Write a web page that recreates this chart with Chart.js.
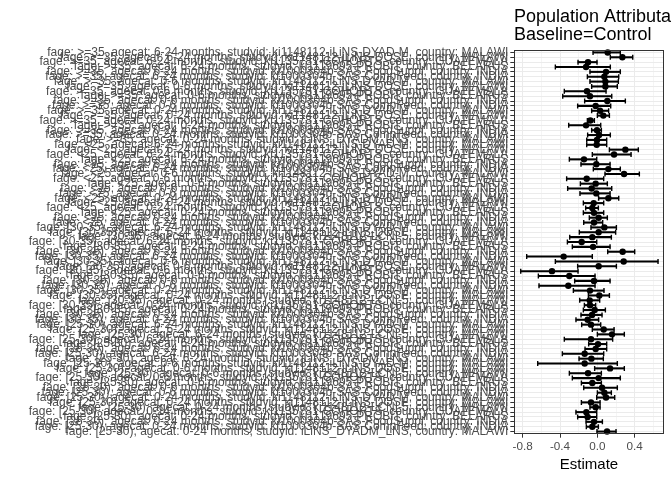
<!DOCTYPE html>
<html><head><meta charset="utf-8">
<script src="https://cdn.jsdelivr.net/npm/chart.js@4/dist/chart.umd.min.js"></script>
<style>html,body{margin:0;padding:0;background:#fff;overflow:hidden}</style>
</head><body>
<canvas id="c" width="672" height="480"></canvas>
<script>
const titleLines = ["Population Attributable Difference", "Baseline=Control"];
const xTitle = "Estimate";

const labels = [
"fage: >=35, agecat: 6-24 months, studyid: ki1148112-iLiNS-DYAD-M, country: MALAWI",
"fage: >=35, agecat: 6-24 months, studyid: ki1148112-iLiNS-DOSE, country: MALAWI",
"fage: >=35, agecat: 6-24 months, studyid: ki1135781-COHORTS, country: GUATEMALA",
"fage: >=35, agecat: 6-24 months, studyid: ki1119695-PROBIT, country: BELARUS",
"fage: >=35, agecat: 6-24 months, studyid: ki1000304b-SAS-FoodSuppl, country: INDIA",
"fage: >=35, agecat: 6-24 months, studyid: ki1000304b-SAS-CompFeed, country: INDIA",
"fage: >=35, agecat: 0-6 months, studyid: ki1148112-iLiNS-DYAD-M, country: MALAWI",
"fage: >=35, agecat: 0-6 months, studyid: ki1148112-iLiNS-DOSE, country: MALAWI",
"fage: >=35, agecat: 0-6 months, studyid: ki1135781-COHORTS, country: GUATEMALA",
"fage: >=35, agecat: 0-6 months, studyid: ki1119695-PROBIT, country: BELARUS",
"fage: >=35, agecat: 0-6 months, studyid: ki1000304b-SAS-FoodSuppl, country: INDIA",
"fage: >=35, agecat: 0-6 months, studyid: ki1000304b-SAS-CompFeed, country: INDIA",
"fage: >=35, agecat: 0-24 months, studyid: ki1148112-iLiNS-DYAD-M, country: MALAWI",
"fage: >=35, agecat: 0-24 months, studyid: ki1148112-iLiNS-DOSE, country: MALAWI",
"fage: >=35, agecat: 0-24 months, studyid: ki1135781-COHORTS, country: GUATEMALA",
"fage: >=35, agecat: 0-24 months, studyid: ki1119695-PROBIT, country: BELARUS",
"fage: >=35, agecat: 0-24 months, studyid: ki1000304b-SAS-FoodSuppl, country: INDIA",
"fage: >=35, agecat: 0-24 months, studyid: ki1000304b-SAS-CompFeed, country: INDIA",
"fage: >=35, agecat: 0-24 months, studyid: iLiNS_DYADM_LNS, country: MALAWI",
"fage: <25, agecat: 6-24 months, studyid: ki1148112-iLiNS-DYAD-M, country: MALAWI",
"fage: <25, agecat: 6-24 months, studyid: ki1148112-iLiNS-DOSE, country: MALAWI",
"fage: <25, agecat: 6-24 months, studyid: ki1135781-COHORTS, country: GUATEMALA",
"fage: <25, agecat: 6-24 months, studyid: ki1119695-PROBIT, country: BELARUS",
"fage: <25, agecat: 6-24 months, studyid: ki1000304b-SAS-FoodSuppl, country: INDIA",
"fage: <25, agecat: 6-24 months, studyid: ki1000304b-SAS-CompFeed, country: INDIA",
"fage: <25, agecat: 0-6 months, studyid: ki1148112-iLiNS-DYAD-M, country: MALAWI",
"fage: <25, agecat: 0-6 months, studyid: ki1135781-COHORTS, country: GUATEMALA",
"fage: <25, agecat: 0-6 months, studyid: ki1119695-PROBIT, country: BELARUS",
"fage: <25, agecat: 0-6 months, studyid: ki1000304b-SAS-FoodSuppl, country: INDIA",
"fage: <25, agecat: 0-6 months, studyid: ki1000304b-SAS-CompFeed, country: INDIA",
"fage: <25, agecat: 0-24 months, studyid: ki1148112-iLiNS-DYAD-M, country: MALAWI",
"fage: <25, agecat: 0-24 months, studyid: ki1148112-iLiNS-DOSE, country: MALAWI",
"fage: <25, agecat: 0-24 months, studyid: ki1135781-COHORTS, country: GUATEMALA",
"fage: <25, agecat: 0-24 months, studyid: ki1119695-PROBIT, country: BELARUS",
"fage: <25, agecat: 0-24 months, studyid: ki1000304b-SAS-FoodSuppl, country: INDIA",
"fage: <25, agecat: 0-24 months, studyid: ki1000304b-SAS-CompFeed, country: INDIA",
"fage: [30-35), agecat: 6-24 months, studyid: ki1148112-iLiNS-DYAD-M, country: MALAWI",
"fage: [30-35), agecat: 6-24 months, studyid: ki1148112-iLiNS-DOSE, country: MALAWI",
"fage: [30-35), agecat: 6-24 months, studyid: ki1148112-LCNI-5, country: MALAWI",
"fage: [30-35), agecat: 6-24 months, studyid: ki1135781-COHORTS, country: GUATEMALA",
"fage: [30-35), agecat: 6-24 months, studyid: ki1119695-PROBIT, country: BELARUS",
"fage: [30-35), agecat: 6-24 months, studyid: ki1000304b-SAS-FoodSuppl, country: INDIA",
"fage: [30-35), agecat: 6-24 months, studyid: ki1000304b-SAS-CompFeed, country: INDIA",
"fage: [30-35), agecat: 0-6 months, studyid: ki1148112-iLiNS-DYAD-M, country: MALAWI",
"fage: [30-35), agecat: 0-6 months, studyid: ki1148112-iLiNS-DOSE, country: MALAWI",
"fage: [30-35), agecat: 0-6 months, studyid: ki1135781-COHORTS, country: GUATEMALA",
"fage: [30-35), agecat: 0-6 months, studyid: ki1119695-PROBIT, country: BELARUS",
"fage: [30-35), agecat: 0-6 months, studyid: ki1000304b-SAS-FoodSuppl, country: INDIA",
"fage: [30-35), agecat: 0-6 months, studyid: ki1000304b-SAS-CompFeed, country: INDIA",
"fage: [30-35), agecat: 0-24 months, studyid: ki1148112-iLiNS-DYAD-M, country: MALAWI",
"fage: [30-35), agecat: 0-24 months, studyid: ki1148112-iLiNS-DOSE, country: MALAWI",
"fage: [30-35), agecat: 0-24 months, studyid: ki1148112-LCNI-5, country: MALAWI",
"fage: [30-35), agecat: 0-24 months, studyid: ki1135781-COHORTS, country: GUATEMALA",
"fage: [30-35), agecat: 0-24 months, studyid: ki1119695-PROBIT, country: BELARUS",
"fage: [30-35), agecat: 0-24 months, studyid: ki1000304b-SAS-FoodSuppl, country: INDIA",
"fage: [30-35), agecat: 0-24 months, studyid: ki1000304b-SAS-CompFeed, country: INDIA",
"fage: [25-30), agecat: 6-24 months, studyid: ki1148112-iLiNS-DYAD-M, country: MALAWI",
"fage: [25-30), agecat: 6-24 months, studyid: ki1148112-iLiNS-DOSE, country: MALAWI",
"fage: [25-30), agecat: 6-24 months, studyid: ki1148112-LCNI-5, country: MALAWI",
"fage: [25-30), agecat: 6-24 months, studyid: ki1135781-COHORTS, country: GUATEMALA",
"fage: [25-30), agecat: 6-24 months, studyid: ki1119695-PROBIT, country: BELARUS",
"fage: [25-30), agecat: 6-24 months, studyid: ki1000304b-SAS-FoodSuppl, country: INDIA",
"fage: [25-30), agecat: 6-24 months, studyid: ki1000304b-SAS-CompFeed, country: INDIA",
"fage: [25-30), agecat: 6-24 months, studyid: iLiNS_DYADM_LNS, country: MALAWI",
"fage: [25-30), agecat: 0-6 months, studyid: ki1148112-iLiNS-DYAD-M, country: MALAWI",
"fage: [25-30), agecat: 0-6 months, studyid: ki1148112-iLiNS-DOSE, country: MALAWI",
"fage: [25-30), agecat: 0-6 months, studyid: ki1148112-LCNI-5, country: MALAWI",
"fage: [25-30), agecat: 0-6 months, studyid: ki1135781-COHORTS, country: GUATEMALA",
"fage: [25-30), agecat: 0-6 months, studyid: ki1119695-PROBIT, country: BELARUS",
"fage: [25-30), agecat: 0-6 months, studyid: ki1000304b-SAS-FoodSuppl, country: INDIA",
"fage: [25-30), agecat: 0-6 months, studyid: ki1000304b-SAS-CompFeed, country: INDIA",
"fage: [25-30), agecat: 0-24 months, studyid: ki1148112-iLiNS-DYAD-M, country: MALAWI",
"fage: [25-30), agecat: 0-24 months, studyid: ki1148112-iLiNS-DOSE, country: MALAWI",
"fage: [25-30), agecat: 0-24 months, studyid: ki1148112-LCNI-5, country: MALAWI",
"fage: [25-30), agecat: 0-24 months, studyid: ki1135781-COHORTS, country: GUATEMALA",
"fage: [25-30), agecat: 0-24 months, studyid: ki1119695-PROBIT, country: BELARUS",
"fage: [25-30), agecat: 0-24 months, studyid: ki1000304b-SAS-FoodSuppl, country: INDIA",
"fage: [25-30), agecat: 0-24 months, studyid: ki1000304b-SAS-CompFeed, country: INDIA",
"fage: [25-30), agecat: 0-24 months, studyid: iLiNS_DYADM_LNS, country: MALAWI"
];

const estimate = [
 0.111, 0.268,-0.100,-0.121, 0.093, 0.075, 0.086, 0.086,-0.111,-0.079,
 0.107,-0.018, 0.029, 0.064,-0.075,-0.121,-0.004, 0.018,-0.004,-0.007,
 0.300, 0.179,-0.143,-0.011, 0.118, 0.286,-0.114,-0.018,-0.061,-0.011,
 0.118,-0.039,-0.054,-0.036, 0.014,-0.036, 0.075, 0.014,-0.054,-0.168,
-0.046, 0.271,-0.361, 0.282, 0.014,-0.486,-0.300,-0.036,-0.311,-0.079,
 0.021,-0.082,-0.079,-0.029,-0.057,-0.104,-0.068, 0.068, 0.157,-0.068,
 0.007,-0.018,-0.136,-0.064,-0.136, 0.136,-0.100, 0.014,-0.054, 0.050,
 0.075, 0.093,-0.068,-0.018,-0.118,-0.104,-0.036,-0.054, 0.104
];
const lower = [
-0.046, 0.139,-0.207,-0.450,-0.079,-0.107,-0.079,-0.061,-0.354,-0.371,
-0.136,-0.211,-0.061, 0.000,-0.107,-0.307,-0.061,-0.104,-0.114,-0.114,
 0.129,-0.054,-0.300,-0.175,-0.043, 0.082,-0.329,-0.182,-0.318,-0.186,
 0.014,-0.150,-0.125,-0.150,-0.086,-0.146,-0.068,-0.193,-0.296,-0.321,
-0.268, 0.111,-0.757,-0.450,-0.211,-0.821,-0.632,-0.243,-0.625,-0.257,
-0.096,-0.189,-0.139,-0.150,-0.175,-0.229,-0.168,-0.054, 0.000,-0.354,
-0.093,-0.132,-0.375,-0.196,-0.639,-0.029,-0.300,-0.268,-0.171,-0.146,
 0.000,-0.007,-0.171,-0.079,-0.229,-0.211,-0.121,-0.118,-0.004
];
const upper = [
 0.246, 0.379,-0.004, 0.139, 0.246, 0.229, 0.225, 0.214, 0.093, 0.154,
 0.300, 0.143, 0.121, 0.129,-0.032, 0.036, 0.043, 0.139, 0.100, 0.100,
 0.439, 0.361,-0.007, 0.136, 0.246, 0.450, 0.068, 0.107, 0.154, 0.136,
 0.229, 0.068, 0.011, 0.068, 0.107, 0.057, 0.204, 0.196, 0.150,-0.007,
 0.136, 0.400,-0.054, 0.650, 0.204,-0.207,-0.025, 0.136,-0.025, 0.071,
 0.129, 0.025,-0.018, 0.086, 0.050, 0.014, 0.036, 0.179, 0.289, 0.164,
 0.100, 0.100, 0.068, 0.064, 0.214, 0.289, 0.043, 0.246, 0.043, 0.214,
 0.150, 0.186, 0.029, 0.029,-0.007,-0.007, 0.054, 0.011, 0.200
];

const isMajor = v => Math.abs(Math.round(v * 10)) % 4 === 0;
const FONT = '"Liberation Sans", Arial, Helvetica, sans-serif';

const deco = {
  id: 'deco',
  afterDraw(chart) {
    const ctx = chart.ctx, a = chart.chartArea;
    ctx.save();
    ctx.strokeStyle = '#333333';
    ctx.lineWidth = 1;
    ctx.strokeRect(Math.round(a.left) + 0.5, Math.round(a.top) + 0.5,
                   Math.round(a.right - a.left) - 1, Math.round(a.bottom - a.top) - 1);
    ctx.fillStyle = '#000';
    ctx.font = '18px ' + FONT;
    ctx.textAlign = 'left';
    ctx.textBaseline = 'alphabetic';
    ctx.fillText(titleLines[0], a.left, 22);
    ctx.fillText(titleLines[1], a.left, 40);
    ctx.restore();
  }
};

new Chart(document.getElementById('c'), {
  type: 'bar',
  data: {
    labels: labels,
    datasets: [
      { type: 'line', data: estimate, showLine: false, pointRadius: 3.2,
        pointBackgroundColor: '#000', pointBorderColor: '#000', pointBorderWidth: 0, order: 0 },
      { type: 'line', data: lower, showLine: false, pointStyle: 'line', rotation: 90,
        pointRadius: 2.5, pointBorderColor: '#000', pointBorderWidth: 1.4, order: 1 },
      { type: 'line', data: upper, showLine: false, pointStyle: 'line', rotation: 90,
        pointRadius: 2.5, pointBorderColor: '#000', pointBorderWidth: 1.4, order: 1 },
      { type: 'bar', data: labels.map((_, i) => [lower[i], upper[i]]),
        backgroundColor: '#000', barThickness: 1.4, order: 2 }
    ]
  },
  options: {
    indexAxis: 'y',
    responsive: false,
    animation: false,
    layout: { padding: { top: 50, right: 8, bottom: 0, left: 0 } },
    plugins: { legend: { display: false }, tooltip: { enabled: false } },
    scales: {
      x: {
        type: 'linear', position: 'bottom', min: -0.893, max: 0.714,
        border: { display: false },
        grid: {
          color: c => isMajor(c.tick.value) ? '#EBEBEB' : '#F3F3F3',
          lineWidth: c => isMajor(c.tick.value) ? 1 : 0.8,
          tickColor: c => isMajor(c.tick.value) ? '#333333' : 'rgba(0,0,0,0)',
          tickLength: 3.7, drawTicks: true
        },
        ticks: {
          stepSize: 0.2, includeBounds: false, autoSkip: false, maxRotation: 0,
          color: '#4D4D4D', padding: 2, font: { family: FONT, size: 11.7 },
          callback: v => isMajor(v) ? (Math.round(v * 10) / 10).toFixed(1) : ''
        },
        title: { display: true, text: xTitle, color: '#000',
                 font: { family: FONT, size: 15 }, padding: { top: 0, bottom: 6 } },
        afterFit: s => { s.height = 46; }
      },
      y: {
        type: 'category', position: 'left', offset: true,
        border: { display: false },
        grid: { color: '#EBEBEB', lineWidth: 1, offset: false,
                tickColor: '#333333', tickLength: 3.7, drawTicks: true },
        ticks: { autoSkip: false, color: '#4D4D4D', padding: 2,
                 font: { family: FONT, size: 12 } },
        afterFit: s => { s.width = 514; }
      }
    }
  },
  plugins: [deco]
});
</script>
</body></html>
